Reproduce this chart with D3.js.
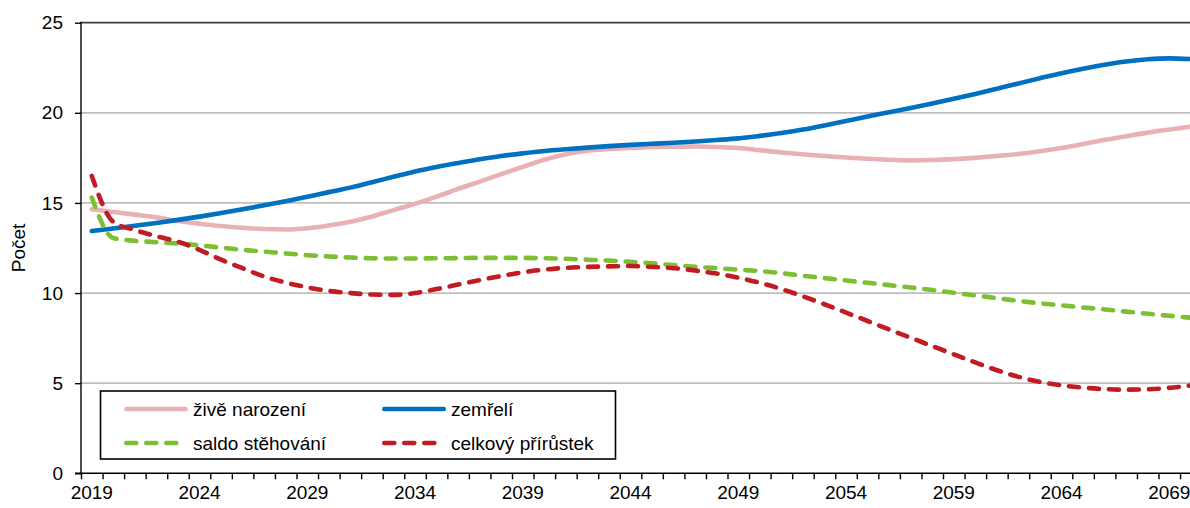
<!DOCTYPE html>
<meta charset="utf-8">
<title>Počet</title>
<style>
  body { margin: 0; background: #fff; }
  svg { font-family: "Liberation Sans", Arial, sans-serif; display: block; }
  .grid line { stroke: #a6a6a6; stroke-width: 1.3; }
  .axis path, .axis line { stroke: #000; stroke-width: 1.4; }
  .axis text { font-size: 19px; fill: #000; font-family: "Liberation Sans", Arial, sans-serif; }
  .series { fill: none; stroke-width: 4.6; }
  .legend text { font-size: 19px; fill: #000; }
</style>
<body>
<script src="https://cdn.jsdelivr.net/npm/d3@7"></script>
<script>
  var years = d3.range(2019, 2071);

  var zivenarozeni = [14.65, 14.5, 14.35, 14.2, 14.0, 13.85, 13.72, 13.62, 13.55, 13.53,
    13.6, 13.75, 13.95, 14.25, 14.6, 14.95, 15.35, 15.78, 16.18, 16.6,
    17.0, 17.4, 17.7, 17.9, 18.0, 18.05, 18.1, 18.12, 18.13, 18.1,
    18.05, 17.93, 17.8, 17.7, 17.6, 17.52, 17.45, 17.4, 17.36, 17.38,
    17.43, 17.5, 17.6, 17.72, 17.87, 18.05, 18.27, 18.5, 18.7, 18.9,
    19.07, 19.24];

  var zemreli = [13.44, 13.58, 13.73, 13.89, 14.06, 14.24, 14.44, 14.65, 14.87, 15.1,
    15.35, 15.6, 15.85, 16.15, 16.45, 16.75, 17.0, 17.22, 17.42, 17.6,
    17.75, 17.88, 17.98, 18.07, 18.15, 18.22, 18.28, 18.34, 18.41, 18.49,
    18.58, 18.72, 18.88, 19.07, 19.3, 19.55, 19.8, 20.03, 20.27, 20.52,
    20.78, 21.05, 21.34, 21.63, 21.92, 22.2, 22.45, 22.67, 22.85, 22.97,
    23.02, 22.98];

  var saldo = [15.3, 13.05, 12.9, 12.82, 12.75, 12.65, 12.52, 12.4, 12.3, 12.2,
    12.1, 12.03, 11.97, 11.93, 11.92, 11.92, 11.93, 11.94, 11.95, 11.95,
    11.95, 11.93, 11.9, 11.85, 11.8, 11.73, 11.65, 11.55, 11.46, 11.38,
    11.3, 11.22, 11.1, 10.96, 10.83, 10.7, 10.57, 10.44, 10.31, 10.17,
    10.02, 9.87, 9.72, 9.57, 9.43, 9.32, 9.2, 9.09, 8.97, 8.85,
    8.74, 8.63];

  var celkovy = [16.5, 13.95, 13.5, 13.15, 12.85, 12.4, 11.85, 11.38, 10.92, 10.58,
    10.32, 10.12, 10.0, 9.92, 9.9, 10.0, 10.22, 10.47, 10.72, 10.95,
    11.15, 11.3, 11.4, 11.45, 11.48, 11.5, 11.45, 11.38, 11.25, 11.08,
    10.85, 10.57, 10.22, 9.82, 9.38, 8.92, 8.45, 7.98, 7.52, 7.06,
    6.6, 6.15, 5.72, 5.35, 5.07, 4.88, 4.75, 4.67, 4.64, 4.66,
    4.74, 4.87];

  var yTicks = [0, 5, 10, 15, 20, 25];
  var xLabelYears = [2019, 2024, 2029, 2034, 2039, 2044, 2049, 2054, 2059, 2064, 2069];

  var series = [
    { name: "živě narození", values: zivenarozeni, color: "#e8b1b6", dash: null },
    { name: "zemřelí", values: zemreli, color: "#0070c0", dash: null },
    { name: "saldo stěhování", values: saldo, color: "#7dbf31", dash: "10,10" },
    { name: "celkový přírůstek", values: celkovy, color: "#c11b24", dash: "10,10" }
  ];

  var width = 1190, height = 508;
  var plotLeft = 81, plotTop = 22.7, plotBottom = 473.3;
  var step = 21.55;

  var x = d3.scaleBand()
          .domain(years)
          .range([plotLeft, plotLeft + years.length * step])
          .paddingInner(0).paddingOuter(0);

  var xEdge = d3.scaleLinear()
          .domain([2019, 2019 + years.length])
          .range([plotLeft, plotLeft + years.length * step]);

  var y = d3.scaleLinear()
          .domain([0, 25])
          .range([plotBottom, plotTop]);

  var svg = d3.select("body").append("svg")
          .attr("width", width)
          .attr("height", height);

  // horizontal gridlines
  svg.append("g")
          .attr("class", "grid")
          .selectAll("line")
          .data(yTicks.filter(function(d) { return d > 0; }))
          .enter().append("line")
          .attr("x1", plotLeft)
          .attr("x2", width)
          .attr("y1", function(d) { return y(d); })
          .attr("y2", function(d) { return y(d); })
          .style("stroke", function(d) { return d === 25 ? "#3c3c3c" : null; })
          .style("stroke-width", function(d) { return d === 25 ? 1.8 : null; });

  // lines
  var line = d3.line()
          .x(function(d, i) { return x(years[i]) + x.bandwidth() / 2; })
          .y(function(d) { return y(d); })
          .curve(d3.curveMonotoneX);

  svg.append("g")
          .selectAll("path")
          .data(series)
          .enter().append("path")
          .attr("class", "series")
          .attr("d", function(d) { return line(d.values); })
          .attr("stroke", function(d) { return d.color; })
          .attr("stroke-dasharray", function(d) { return d.dash; })
          .attr("stroke-linecap", "round");

  // y axis
  var yAxis = d3.axisLeft(y)
          .tickValues(yTicks)
          .tickSize(6)
          .tickPadding(12);

  var gy = svg.append("g")
          .attr("class", "y axis")
          .attr("transform", "translate(" + plotLeft + ",0)")
          .call(yAxis);
  gy.select(".domain").attr("d", "M0," + (plotBottom + 1) + "V" + (plotTop - 1));

  // x axis: ticks at category edges
  var gxTicks = svg.append("g")
          .attr("class", "x axis")
          .attr("transform", "translate(0," + plotBottom + ")")
          .call(d3.axisBottom(xEdge)
                  .tickValues(d3.range(2019, 2019 + years.length + 1))
                  .tickSize(6)
                  .tickFormat(""));
  gxTicks.select(".domain").attr("d", "M" + (plotLeft - 6) + ",0H" + width);

  // x axis labels at category centres
  var gxLabels = svg.append("g")
          .attr("class", "x axis")
          .attr("transform", "translate(0," + plotBottom + ")")
          .call(d3.axisBottom(x)
                  .tickValues(xLabelYears)
                  .tickSize(0)
                  .tickPadding(12));
  gxLabels.select(".domain").remove();

  // y title
  svg.append("text")
          .attr("transform", "translate(25," + ((plotTop + plotBottom) / 2) + ") rotate(-90)")
          .attr("text-anchor", "middle")
          .style("font-size", "19px")
          .text("Počet");

  // legend
  var legend = svg.append("g").attr("class", "legend");
  legend.append("rect")
          .attr("x", 100.5).attr("y", 391)
          .attr("width", 515).attr("height", 68)
          .attr("fill", "#fff")
          .attr("stroke", "#000")
          .attr("stroke-width", 1.6);

  var legendPos = [
    { lx: 124, ly: 409 }, { lx: 382, ly: 409 },
    { lx: 124, ly: 443 }, { lx: 382, ly: 443 }
  ];

  var items = legend.selectAll("g.item")
          .data(series)
          .enter().append("g")
          .attr("class", "item")
          .attr("transform", function(d, i) {
            return "translate(" + legendPos[i].lx + "," + legendPos[i].ly + ")";
          });

  items.append("line")
          .attr("x1", 2.3).attr("x2", 61.7)
          .attr("y1", 0).attr("y2", 0)
          .attr("stroke", function(d) { return d.color; })
          .attr("stroke-width", 4.6)
          .attr("stroke-linecap", "round")
          .attr("stroke-dasharray", function(d) { return d.dash; });

  items.append("text")
          .attr("x", 69)
          .attr("y", 7)
          .text(function(d) { return d.name; });
</script>
</body>
